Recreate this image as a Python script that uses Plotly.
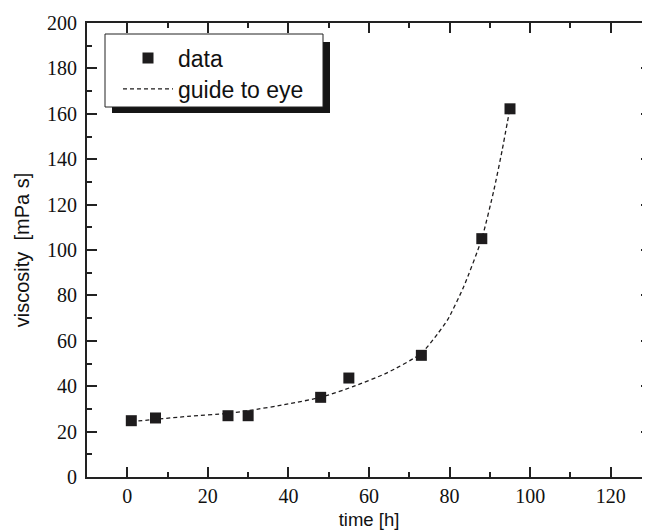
import plotly.graph_objects as go

# data
time_h = [1, 7, 25, 30, 48, 55, 73, 88, 95]
viscosity = [24.8, 26.0, 27.0, 27.0, 35.1, 43.6, 53.6, 105.0, 162.2]

guide_time = [1, 15, 25, 30, 40, 48, 56, 64.5, 73, 77, 79.5, 83.5, 88, 91, 93, 95]
guide_visc = [24.4, 26.7, 28.0, 29.2, 32.2, 35.1, 39.8, 45.9, 54.5, 63.0, 69.2,
              83.8, 105.0, 126.4, 143.5, 162.5]

x_range = [-10, 130]
y_range = [0, 200]

# the page body adds an 8px offset; layout numbers are figure pixels
OFF = 8
W, H = 650, 530
PL, PR, PT, PB = 87, 651, 23, 477          # plot edges in page pixels
ML, MT = PL - OFF, PT - OFF
MR = W - (PR - OFF)
MB = H - (PB - OFF)
PW, PH = PR - PL, PB - PT


def px(x):
    return (x - PL) / PW


def py(y):
    return 1 - (y - PT) / PH


ink = "#1e1c1d"

fig = go.Figure()
fig.add_trace(go.Scatter(
    x=time_h, y=viscosity, mode="markers", name="data", legend="legend",
    marker=dict(symbol="square", size=11, color=ink, line=dict(width=0)),
))
fig.add_trace(go.Scatter(
    x=guide_time, y=guide_visc, mode="lines", name="guide to eye", legend="legend2",
    line=dict(color=ink, width=1.3, dash="4px,3px", shape="spline", smoothing=0.6),
))

axis_common = dict(
    showline=True, linewidth=2, linecolor="#222", mirror="ticks",
    ticks="inside", ticklen=10, tickwidth=1.6, tickcolor="#222",
    showgrid=False, zeroline=False,
    tickfont=dict(family="Liberation Serif, Times New Roman, serif", size=20, color="#111"),
    minor=dict(ticks="inside", ticklen=5, tickwidth=1.6, tickcolor="#222", showgrid=False),
)

fig.update_xaxes(range=x_range, dtick=20, tick0=0, minor_dtick=10,
                 title_text="time [h]", title_standoff=7,
                 title_font=dict(family="Liberation Sans", size=18.5, color="#111"),
                 **axis_common)
fig.update_yaxes(range=y_range, dtick=20, tick0=0, minor_dtick=10,
                 title_text="viscosity  [mPa s]", title_standoff=12,
                 title_font=dict(family="Liberation Sans", size=20, color="#111"),
                 ticklabelstandoff=4, **axis_common)

legend_common = dict(
    xanchor="left", yanchor="middle",
    bgcolor="rgba(0,0,0,0)", borderwidth=0,
    font=dict(family="Liberation Sans", size=23, color="#111"),
    itemwidth=50,
)

fig.update_layout(
    width=W, height=H,
    margin=dict(l=ML, r=MR, t=MT, b=MB, autoexpand=False),
    paper_bgcolor="white", plot_bgcolor="white",
    showlegend=True,
    legend=dict(x=px(118), y=py(58), **legend_common),
    legend2=dict(x=px(118), y=py(89), **legend_common),
    shapes=[
        dict(type="rect", xref="paper", yref="paper",
             x0=px(112), x1=px(330), y0=py(113), y1=py(42),
             fillcolor="#151515", line=dict(width=0), layer="above"),
        dict(type="rect", xref="paper", yref="paper",
             x0=px(105), x1=px(323), y0=py(107), y1=py(34),
             fillcolor="white", line=dict(width=1, color="#222"), layer="above"),
    ],
)

fig.write_html("out.html")
